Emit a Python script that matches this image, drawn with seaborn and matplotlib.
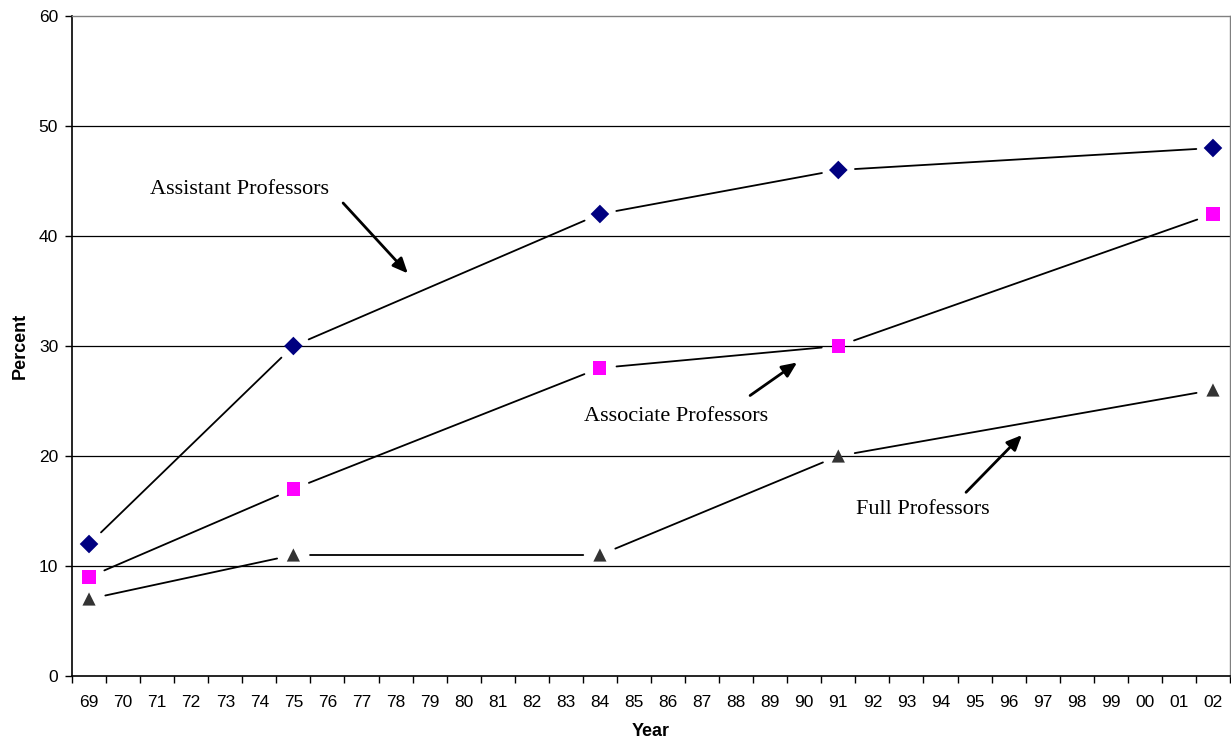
import numpy as np
import pandas as pd
import seaborn as sns
import matplotlib
matplotlib.use("Agg")
import matplotlib.pyplot as plt

sns.set_style("white")
plt.rcParams['font.family'] = ['Liberation Sans', 'DejaVu Sans']
plt.rcParams['text.color'] = 'black'
plt.rcParams['axes.labelcolor'] = 'black'
plt.rcParams['xtick.color'] = 'black'
plt.rcParams['ytick.color'] = 'black'

# category axis, one slot per year
years = [str(y) for y in range(69, 100)] + ['00', '01', '02']
obs_years = ['69', '75', '84', '91', '02']
assistant = [12, 30, 42, 46, 48]
associate = [9, 17, 28, 30, 42]
full = [7, 11, 11, 20, 26]

xpos = [years.index(y) for y in obs_years]
df = pd.DataFrame({
    'x': xpos * 3,
    'pct': assistant + associate + full,
    'rank': ['Assistant'] * 5 + ['Associate'] * 5 + ['Full'] * 5,
})

colors = {'Assistant': '#000080', 'Associate': '#FF00FF', 'Full': '#333333'}
markers = {'Assistant': 'D', 'Associate': 's', 'Full': '^'}

fig = plt.figure(figsize=(12.31, 7.45), dpi=100)
ax = fig.add_axes([72 / 1231, 1 - 676 / 745, (1230 - 72) / 1231, (676 - 16) / 745])

# gridlines
for g in range(10, 60, 10):
    ax.axhline(g, color='black', lw=0.9, zorder=0)

# connecting lines, drawn short of the markers
for rank, sub in df.groupby('rank'):
    pts = list(zip(sub['x'], sub['pct']))
    for p1, p2 in zip(pts[:-1], pts[1:]):
        ax.annotate('', xy=p2, xytext=p1,
                    arrowprops=dict(arrowstyle='-', color='black', lw=1.3,
                                    shrinkA=12, shrinkB=12))

sns.scatterplot(data=df, x='x', y='pct', hue='rank', style='rank',
                palette=colors, markers=markers, s=90, linewidth=0,
                legend=False, ax=ax, zorder=3)

ax.set_xlim(-0.5, len(years) - 0.5)
ax.set_ylim(0, 60)
ax.set_yticks(range(0, 61, 10))
ax.set_xticks(range(len(years)))
ax.set_xticklabels(years)
ax.set_xticks(np.arange(len(years) + 1) - 0.5, minor=True)
ax.tick_params(axis='x', which='major', length=0, pad=14, labelsize=12.5)
ax.tick_params(axis='x', which='minor', length=5, width=1, color='black', direction='out')
ax.tick_params(axis='y', length=5, width=1, color='black', direction='out', pad=5, labelsize=12.5)
ax.tick_params(left=True, bottom=True)
ax.tick_params(axis='x', which='minor', bottom=True)

for s in ['top', 'right']:
    ax.spines[s].set_color('#808080')
    ax.spines[s].set_linewidth(1)
for s in ['left', 'bottom']:
    ax.spines[s].set_color('black')
    ax.spines[s].set_linewidth(1.2)

ax.set_xlabel('Year', fontsize=13, fontweight='bold', labelpad=9)
ax.set_ylabel('Percent', fontsize=13, fontweight='bold', labelpad=7)

# labels with arrows
notes = [
    ('Assistant Professors', (1.79, 44.2), (7.46, 43.0), (9.36, 36.6)),
    ('Associate Professors', (14.53, 23.6), (19.41, 25.5), (20.79, 28.5)),
    ('Full Professors', (22.52, 15.1), (25.75, 16.7), (27.39, 21.9)),
]
for text, tpos, a0, a1 in notes:
    ax.text(tpos[0], tpos[1], text, family='Liberation Serif', fontsize=16,
            va='center', ha='left')
    ax.annotate('', xy=a1, xytext=a0,
                arrowprops=dict(arrowstyle='-|>,head_length=0.9,head_width=0.4',
                                color='black', lw=2, shrinkA=0, shrinkB=0))

fig.savefig('out.png', dpi=100)
